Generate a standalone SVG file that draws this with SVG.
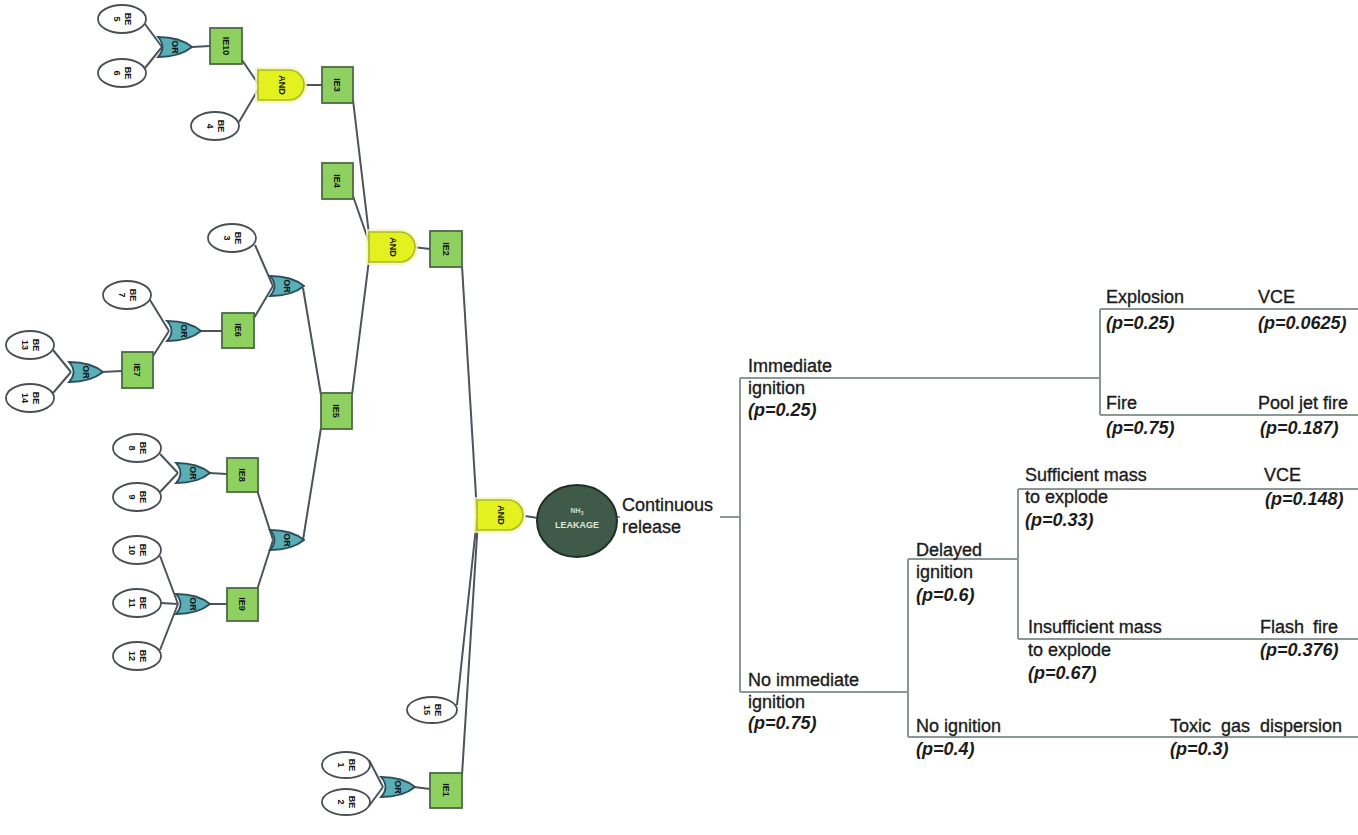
<svg xmlns="http://www.w3.org/2000/svg" xmlns:xlink="http://www.w3.org/1999/xlink" width="1358" height="835" viewBox="0 0 1358 835">
<style>
.be{fill:#ffffff;stroke:#4a4f54;stroke-width:1.8}
.ie{fill:#8ed160;stroke:#4d6a45;stroke-width:1.8}
.org{fill:#5aaeb8;stroke:#2a4e58;stroke-width:1.8}
.andg{fill:#e3f21e;stroke:#aab82a;stroke-width:1.6}
.halo{fill:none;stroke:#f2f8b0;stroke-width:6;opacity:0.8}
.ft{stroke:#4a545c;stroke-width:2;fill:none}
.et{stroke:#8c9895;stroke-width:2;fill:none}
.lab{font-family:"Liberation Sans",Arial,sans-serif;font-size:9px;font-weight:bold;fill:#141414;text-anchor:middle}
.t{font-family:"Liberation Sans",Arial,sans-serif;font-size:18px;fill:#1c1c1c;stroke:#1c1c1c;stroke-width:0.35}
.p{font-family:"Liberation Sans",Arial,sans-serif;font-size:18px;font-weight:bold;font-style:italic;fill:#1c1c1c}
</style>
<defs>
<path id="orShape" d="M-17,-10 Q-8,0 -17,10 Q5,10 17,0 Q5,-10 -17,-10Z"/>
<path id="andShape" d="M-24,-15 H7 A15,15 0 0 1 7,15 H-24 Z"/>
</defs>
<rect width="1358" height="835" fill="#ffffff"/>

<g id="connectors">
 <path class="ft" d="M145,24 L162,47 M145,68 L162,47 M192,47 L210,46"/>
 <path class="ft" d="M242,60 L259,85 M239,122 L259,88 M305,85 L322,85"/>
 <path class="ft" d="M353,100 L370,243 M353,196 L370,245 M352,395 L370,252 M413,247 L430,249"/>
 <path class="ft" d="M462,266 L477,513"/>
 <path class="ft" d="M255,245 L273,286 M254,318 L273,286 M303,288 L321,395"/>
 <path class="ft" d="M150,300 L169,331 M153,356 L169,331 M200,331 L222,331"/>
 <path class="ft" d="M53,350 L71,372 M53,393 L71,372 M102,372 L122,371"/>
 <path class="ft" d="M160,454 L178,473 M160,492 L178,473 M209,473 L227,474"/>
 <path class="ft" d="M160,556 L178,604 M161,603 L178,604 M160,650 L178,604 M209,604 L227,604"/>
 <path class="ft" d="M257,490 L273,540 M257,590 L273,540 M303,540 L321,428"/>
 <path class="ft" d="M457,705 L477,518"/>
 <path class="ft" d="M369,760 L383,787 M369,806 L383,787 M414,787 L430,789 M462,775 L478,520"/>
 <path class="ft" d="M525,516 L538,518"/>
 <path class="et" d="M614,517 H740 M740,378 V692 M740,378 H1100 M1100,309 V415 M1100,309 H1358 M1100,415 H1358"/>
 <path class="et" d="M740,692 H908 M908,559 V737 M908,559 H1018 M1018,489 V639 M1018,489 H1358 M1018,639 H1358 M908,737 H1358"/>
</g>

<g id="be5"><ellipse class="be" cx="122" cy="19" rx="24" ry="14"/><text class="lab" transform="translate(122,19) rotate(90)"><tspan x="0" y="-3">BE</tspan><tspan x="0" y="8">5</tspan></text></g>
<g id="be6"><ellipse class="be" cx="122" cy="73" rx="24" ry="14"/><text class="lab" transform="translate(122,73) rotate(90)"><tspan x="0" y="-3">BE</tspan><tspan x="0" y="8">6</tspan></text></g>
<g id="be4"><ellipse class="be" cx="215" cy="126" rx="24" ry="14"/><text class="lab" transform="translate(215,126) rotate(90)"><tspan x="0" y="-3">BE</tspan><tspan x="0" y="8">4</tspan></text></g>
<g id="be3"><ellipse class="be" cx="232" cy="238" rx="24" ry="14"/><text class="lab" transform="translate(232,238) rotate(90)"><tspan x="0" y="-3">BE</tspan><tspan x="0" y="8">3</tspan></text></g>
<g id="be7"><ellipse class="be" cx="127" cy="295" rx="24" ry="14"/><text class="lab" transform="translate(127,295) rotate(90)"><tspan x="0" y="-3">BE</tspan><tspan x="0" y="8">7</tspan></text></g>
<g id="be13"><ellipse class="be" cx="30" cy="345" rx="24" ry="14"/><text class="lab" transform="translate(30,345) rotate(90)"><tspan x="0" y="-3">BE</tspan><tspan x="0" y="8">13</tspan></text></g>
<g id="be14"><ellipse class="be" cx="30" cy="398" rx="24" ry="14"/><text class="lab" transform="translate(30,398) rotate(90)"><tspan x="0" y="-3">BE</tspan><tspan x="0" y="8">14</tspan></text></g>
<g id="be8"><ellipse class="be" cx="137" cy="448" rx="24" ry="14"/><text class="lab" transform="translate(137,448) rotate(90)"><tspan x="0" y="-3">BE</tspan><tspan x="0" y="8">8</tspan></text></g>
<g id="be9"><ellipse class="be" cx="137" cy="497" rx="24" ry="14"/><text class="lab" transform="translate(137,497) rotate(90)"><tspan x="0" y="-3">BE</tspan><tspan x="0" y="8">9</tspan></text></g>
<g id="be10"><ellipse class="be" cx="137" cy="550" rx="24" ry="14"/><text class="lab" transform="translate(137,550) rotate(90)"><tspan x="0" y="-3">BE</tspan><tspan x="0" y="8">10</tspan></text></g>
<g id="be11"><ellipse class="be" cx="137" cy="603" rx="24" ry="14"/><text class="lab" transform="translate(137,603) rotate(90)"><tspan x="0" y="-3">BE</tspan><tspan x="0" y="8">11</tspan></text></g>
<g id="be12"><ellipse class="be" cx="137" cy="656" rx="24" ry="14"/><text class="lab" transform="translate(137,656) rotate(90)"><tspan x="0" y="-3">BE</tspan><tspan x="0" y="8">12</tspan></text></g>
<g id="be15"><ellipse class="be" cx="432" cy="710" rx="25" ry="13"/><text class="lab" transform="translate(432,710) rotate(90)"><tspan x="0" y="-3">BE</tspan><tspan x="0" y="8">15</tspan></text></g>
<g id="be1"><ellipse class="be" cx="346" cy="765" rx="24" ry="13"/><text class="lab" transform="translate(346,765) rotate(90)"><tspan x="0" y="-3">BE</tspan><tspan x="0" y="8">1</tspan></text></g>
<g id="be2"><ellipse class="be" cx="346" cy="802" rx="24" ry="13"/><text class="lab" transform="translate(346,802) rotate(90)"><tspan x="0" y="-3">BE</tspan><tspan x="0" y="8">2</tspan></text></g>

<g id="or1"><use href="#orShape" class="org" x="175" y="47"/><text class="lab" transform="translate(175,47) rotate(90)" y="3">OR</text></g>
<g id="or2"><use href="#orShape" class="org" x="287" y="286"/><text class="lab" transform="translate(287,286) rotate(90)" y="3">OR</text></g>
<g id="or3"><use href="#orShape" class="org" x="184" y="331"/><text class="lab" transform="translate(184,331) rotate(90)" y="3">OR</text></g>
<g id="or4"><use href="#orShape" class="org" x="86" y="372"/><text class="lab" transform="translate(86,372) rotate(90)" y="3">OR</text></g>
<g id="or5"><use href="#orShape" class="org" x="193" y="473"/><text class="lab" transform="translate(193,473) rotate(90)" y="3">OR</text></g>
<g id="or6"><use href="#orShape" class="org" x="193" y="604"/><text class="lab" transform="translate(193,604) rotate(90)" y="3">OR</text></g>
<g id="or7"><use href="#orShape" class="org" x="287" y="540"/><text class="lab" transform="translate(287,540) rotate(90)" y="3">OR</text></g>
<g id="or8"><use href="#orShape" class="org" x="398" y="787"/><text class="lab" transform="translate(398,787) rotate(90)" y="3">OR</text></g>

<g id="and1"><use href="#andShape" class="halo" x="282" y="85"/><use href="#andShape" class="andg" x="282" y="85"/><text class="lab" transform="translate(282,85) rotate(90)" y="3">AND</text></g>
<g id="and2"><use href="#andShape" class="halo" x="393" y="247"/><use href="#andShape" class="andg" x="393" y="247"/><text class="lab" transform="translate(393,247) rotate(90)" y="3">AND</text></g>
<g id="and3"><use href="#andShape" class="halo" x="501" y="515"/><use href="#andShape" class="andg" x="501" y="515"/><text class="lab" transform="translate(501,515) rotate(90)" y="3">AND</text></g>

<g id="ie10"><rect class="ie" x="210" y="28" width="32" height="36"/><text class="lab" transform="translate(226,46) rotate(90)" y="3">IE10</text></g>
<g id="ie3"><rect class="ie" x="322" y="67" width="31" height="36"/><text class="lab" transform="translate(337,85) rotate(90)" y="3">IE3</text></g>
<g id="ie4"><rect class="ie" x="322" y="163" width="31" height="36"/><text class="lab" transform="translate(337,181) rotate(90)" y="3">IE4</text></g>
<g id="ie2"><rect class="ie" x="430" y="231" width="32" height="36"/><text class="lab" transform="translate(446,249) rotate(90)" y="3">IE2</text></g>
<g id="ie5"><rect class="ie" x="321" y="393" width="31" height="36"/><text class="lab" transform="translate(336,411) rotate(90)" y="3">IE5</text></g>
<g id="ie6"><rect class="ie" x="222" y="313" width="32" height="35"/><text class="lab" transform="translate(238,330) rotate(90)" y="3">IE6</text></g>
<g id="ie7"><rect class="ie" x="122" y="352" width="31" height="36"/><text class="lab" transform="translate(137,370) rotate(90)" y="3">IE7</text></g>
<g id="ie8"><rect class="ie" x="227" y="458" width="31" height="34"/><text class="lab" transform="translate(242,475) rotate(90)" y="3">IE8</text></g>
<g id="ie9"><rect class="ie" x="227" y="588" width="31" height="33"/><text class="lab" transform="translate(242,604) rotate(90)" y="3">IE9</text></g>
<g id="ie1"><rect class="ie" x="430" y="773" width="32" height="35"/><text class="lab" transform="translate(446,790) rotate(90)" y="3">IE1</text></g>

<g id="top-event">
 <ellipse cx="577" cy="521" rx="40" ry="36" fill="#3f5a48" stroke="#1f2f25" stroke-width="2"/>
 <text x="577" y="513" font-family="Liberation Sans,Arial,sans-serif" font-size="7" font-weight="bold" fill="#cfe0d0" text-anchor="middle">NH<tspan font-size="5" dy="2">3</tspan></text>
 <text x="577" y="528" font-family="Liberation Sans,Arial,sans-serif" font-size="9" font-weight="bold" fill="#dbe8dc" text-anchor="middle">LEAKAGE</text>
</g>

<g id="et-initiating"><rect x="620" y="496" width="100" height="42" fill="#ffffff"/><text class="t" x="622" y="511">Continuous</text><text class="t" x="622" y="533">release</text></g>
<g id="et-immediate"><text class="t" x="748" y="372">Immediate</text><text class="t" x="748" y="394">ignition</text><text class="p" x="748" y="416">(p=0.25)</text></g>
<g id="et-explosion"><text class="t" x="1106" y="303">Explosion</text><text class="p" x="1106" y="329">(p=0.25)</text></g>
<g id="et-vce1"><text class="t" x="1258" y="303">VCE</text><text class="p" x="1258" y="329">(p=0.0625)</text></g>
<g id="et-fire"><text class="t" x="1106" y="409">Fire</text><text class="p" x="1106" y="434">(p=0.75)</text></g>
<g id="et-pool"><text class="t" x="1258" y="409">Pool jet fire</text><text class="p" x="1260" y="434">(p=0.187)</text></g>
<g id="et-noimmediate"><text class="t" x="748" y="686">No immediate</text><text class="t" x="748" y="708">ignition</text><text class="p" x="748" y="729">(p=0.75)</text></g>
<g id="et-delayed"><text class="t" x="916" y="556">Delayed</text><text class="t" x="916" y="578">ignition</text><text class="p" x="916" y="601">(p=0.6)</text></g>
<g id="et-sufficient"><text class="t" x="1025" y="481">Sufficient mass</text><text class="t" x="1025" y="503">to explode</text><text class="p" x="1025" y="526">(p=0.33)</text></g>
<g id="et-vce2"><text class="t" x="1264" y="481">VCE</text><text class="p" x="1265" y="505">(p=0.148)</text></g>
<g id="et-insufficient"><text class="t" x="1028" y="633">Insufficient mass</text><text class="t" x="1028" y="656">to explode</text><text class="p" x="1028" y="679">(p=0.67)</text></g>
<g id="et-flash"><text class="t" x="1260" y="633" word-spacing="4">Flash fire</text><text class="p" x="1260" y="656">(p=0.376)</text></g>
<g id="et-noignition"><text class="t" x="916" y="732">No ignition</text><text class="p" x="916" y="755">(p=0.4)</text></g>
<g id="et-toxic"><text class="t" x="1170" y="732" word-spacing="5">Toxic gas dispersion</text><text class="p" x="1170" y="755">(p=0.3)</text></g>
</svg>
